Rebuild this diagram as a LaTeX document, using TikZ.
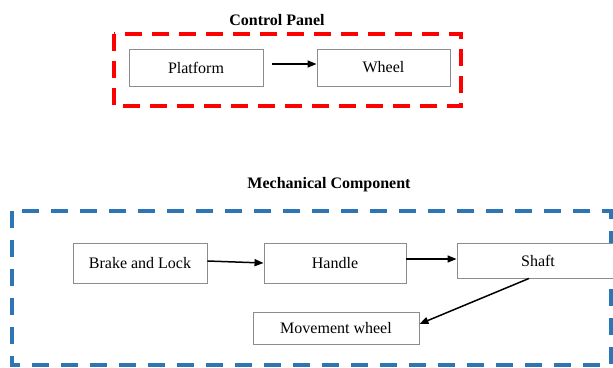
\documentclass[tikz,border=0pt]{standalone}
\usepackage{fontspec}
\setmainfont{Liberation Serif}
\usetikzlibrary{arrows.meta}
\definecolor{panelred}{RGB}{255,0,0}
\definecolor{mechblue}{RGB}{46,117,182}
\definecolor{boxgray}{RGB}{140,140,140}
\begin{document}
\begin{tikzpicture}[x=1pt,y=-1pt,
  compbox/.style={draw=boxgray,line width=0.9pt,fill=white,rectangle,inner sep=0pt,
    font=\fontsize{16}{19}\selectfont},
  grouptitle/.style={font=\fontsize{16}{19}\selectfont\bfseries,inner sep=0pt},
  flow/.style={draw=black,line width=1.5pt,-{Triangle[length=9pt,width=7pt]}},
  redframe/.style={draw=panelred,line width=4pt,dash pattern=on 17pt off 10pt,line join=miter},
  blueframe/.style={draw=mechblue,line width=4pt,dash pattern=on 17pt off 12pt,line join=miter}]
\useasboundingbox (0,0) rectangle (613,367);
\clip (0,0) rectangle (613,367);
\fill[white] (0,0) rectangle (613,367);
% frames
\draw[redframe] (114,34) rectangle (461,106);
\draw[blueframe] (12,211) rectangle (611,365);
% titles
\node[grouptitle] (cptitle) at (277,20) {Control Panel};
\node[grouptitle] (mctitle) at (329,185) {Mechanical Component};
% boxes
\node[compbox,minimum width=134pt,minimum height=37pt] (platform) at (196,67.5) {Platform};
\node[compbox,minimum width=133pt,minimum height=37pt] (wheel) at (383.5,67.5) {Wheel};
\node[compbox,minimum width=134pt,minimum height=40pt] (brake) at (140,263) {Brake and Lock};
\node[compbox,minimum width=142pt,minimum height=40pt] (handle) at (335,263) {Handle};
\node[compbox,minimum width=162pt,minimum height=35pt] (shaft) at (538,260.5) {Shaft};
\node[compbox,minimum width=166pt,minimum height=32pt] (movement) at (336,328) {Movement wheel};
% connectors
\draw[flow] ([xshift=9pt,yshift=3.5pt]platform.east) -- ([yshift=3.5pt]wheel.west);
\draw[flow] ([yshift=2pt]brake.east) -- (handle.west);
\draw[flow] ([yshift=4pt]handle.east) -- ([yshift=1.5pt]shaft.west);
\draw[flow] ([xshift=-9pt]shaft.south) -- ([yshift=4pt]movement.east);
\end{tikzpicture}
\end{document}
